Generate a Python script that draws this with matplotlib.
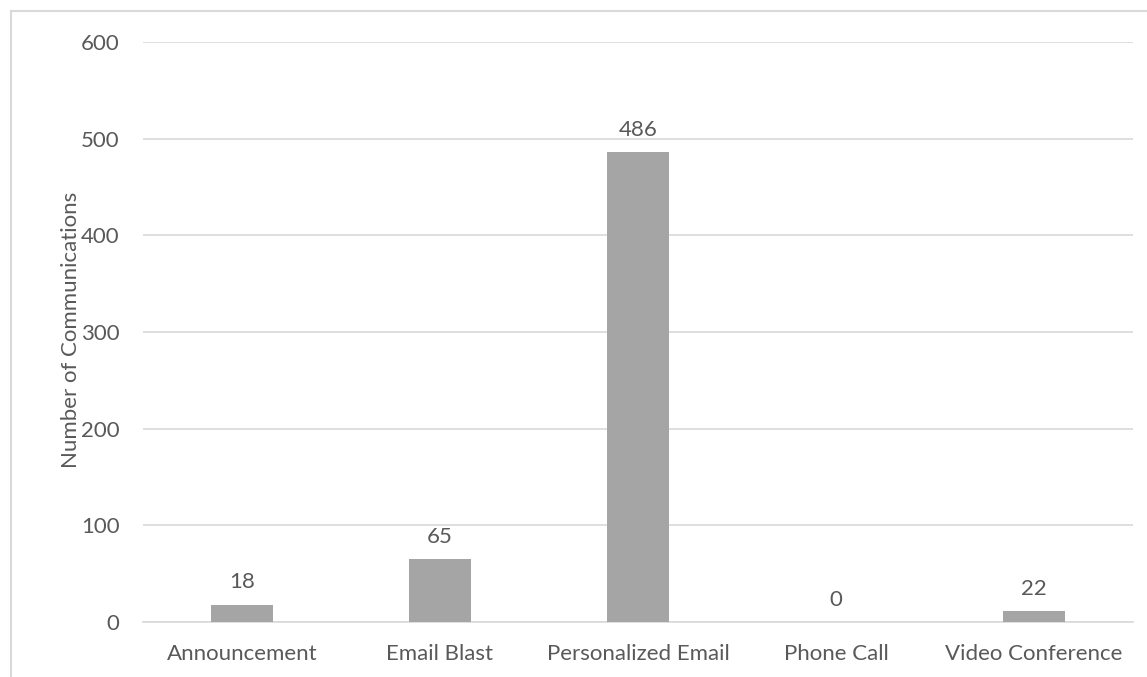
import matplotlib
matplotlib.use("Agg")
import matplotlib.pyplot as plt
from matplotlib.lines import Line2D

# data
categories = ["Announcement", "Email Blast", "Personalized Email", "Phone Call", "Video Conference"]
bar_values = [18, 65, 486, 0, 11]
value_labels = ["18", "65", "486", "0", "22"]
y_ticks = [0, 100, 200, 300, 400, 500, 600]

TEXT = "#595959"
GRID = "#d9d9d9"
BAR = "#a5a5a5"
FS = 16

plt.rcParams["font.family"] = ["Lato", "DejaVu Sans"]

fig = plt.figure(figsize=(11.47, 6.77), dpi=100)
ax = fig.add_axes([143 / 1147, 1 - 622 / 677, 990 / 1147, 580 / 677])

x = range(len(categories))
bars = ax.bar(x, bar_values, width=0.31, color=BAR, zorder=3)

for rect, lab in zip(bars, value_labels):
    ax.annotate(lab, (rect.get_x() + rect.get_width() / 2, rect.get_height()),
                xytext=(0, 9), textcoords="offset points",
                ha="center", va="bottom", fontsize=FS, color=TEXT)

ax.set_xlim(-0.5, len(categories) - 0.5)
ax.set_ylim(0, 600)
ax.set_xticks(list(x))
ax.set_xticklabels(categories)
ax.set_yticks(y_ticks)
ax.tick_params(axis="both", length=0, labelsize=FS, colors=TEXT)
ax.tick_params(axis="x", pad=16)
ax.tick_params(axis="y", pad=17)
ax.grid(axis="y", color=GRID, linewidth=1.2, zorder=0)
ax.set_axisbelow(True)
for s in ["top", "right", "left"]:
    ax.spines[s].set_visible(False)
ax.spines["bottom"].set_color(GRID)
ax.spines["bottom"].set_linewidth(1.2)
ax.set_ylabel("Number of Communications", fontsize=FS, color=TEXT)
ax.yaxis.set_label_coords((71 - 143) / 990, (622 - 330) / 580)
ax.yaxis.label.set_va("center")

# chart area border (only top and left edges fall inside the image)
fig.add_artist(Line2D([11 / 1147, 11 / 1147], [0, 1 - 11 / 677], color=GRID, linewidth=1.5,
                      transform=fig.transFigure))
fig.add_artist(Line2D([11 / 1147, 1], [1 - 11 / 677, 1 - 11 / 677], color=GRID, linewidth=1.5,
                      transform=fig.transFigure))

fig.savefig("out.png", dpi=100)
